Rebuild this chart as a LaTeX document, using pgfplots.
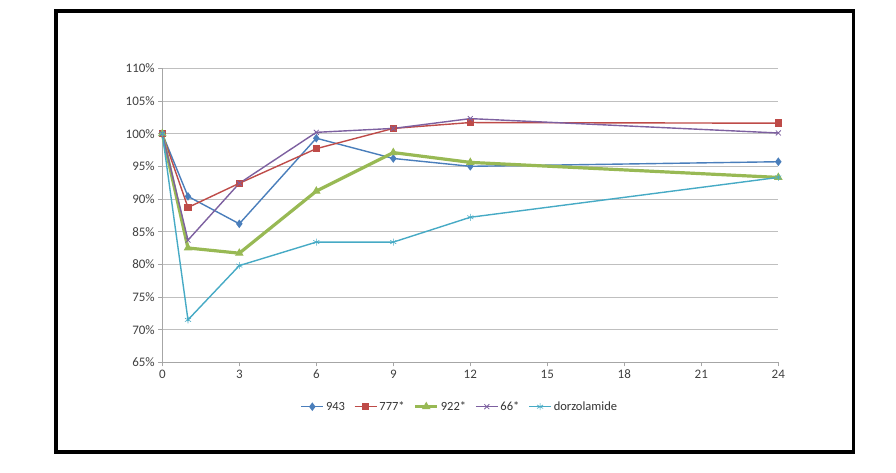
\documentclass[border=0pt]{standalone}
\usepackage{pgfplots}
\pgfplotsset{compat=1.18}
\usepackage{fontspec}
\setmainfont{Carlito}
\definecolor{cBlue}{HTML}{4A7EBB}
\definecolor{cRed}{HTML}{BE4B48}
\definecolor{cGreen}{HTML}{98B954}
\definecolor{cPurple}{HTML}{7D60A0}
\definecolor{cAqua}{HTML}{46AAC5}
\begin{document}
\begin{tikzpicture}
% page bounds and outer frame
\path (0,0) rectangle (896pt,-472pt);
\draw[line width=3.5pt] (56pt,-11pt) rectangle (853.5pt,-452pt);
\begin{axis}[
    at={(162.3pt,-362.3pt)}, anchor=south west,
    scale only axis, width=616pt, height=294pt,
    xmin=0, xmax=24, ymin=65, ymax=110,
    xtick={0,3,...,24}, ytick={65,70,...,110},
    yticklabel={\pgfmathprintnumber{\tick}\%},
    /pgf/number format/assume math mode=true,
    axis x line*=bottom, axis y line*=left,
    axis line style={black!35, line width=0.8pt},
    ymajorgrids, grid style={black!25, line width=0.9pt},
    tick align=outside, major tick length=4pt,
    tick style={black!35, line width=0.8pt},
    ticklabel style={font=\fontsize{13}{15}\selectfont, text=black!75},
    clip=false,
    legend columns=5,
    legend style={at={(0.483,-0.151)}, anchor=center, draw=none,
        font=\fontsize{12.5}{14}\selectfont, text=black!80,
        /tikz/every even column/.append style={column sep=7pt}},
    legend image code/.code={\draw[mark repeat=2,mark phase=2]
        plot coordinates {(0pt,0pt) (11pt,0pt) (22pt,0pt)};},
]
\addplot[cBlue, line width=1.4pt, mark=diamond*, mark size=3.2pt,
    mark options={solid}] coordinates {
    (0,100) (1,90.4) (3,86.2) (6,99.3) (9,96.2) (12,95.0) (24,95.7)};
\addplot[cRed, line width=1.4pt, mark=square*, mark size=3pt] coordinates {
    (0,100) (1,88.7) (3,92.4) (6,97.7) (9,100.8) (12,101.7) (24,101.6)};
\addplot[cGreen, line width=3.2pt, mark=triangle*, mark size=4pt,
    mark options={line width=1pt}] coordinates {
    (0,100) (1,82.5) (3,81.7) (6,91.2) (9,97.1) (12,95.6) (24,93.3)};
\addplot[cPurple, line width=1.4pt, mark=x, mark size=3.5pt,
    mark options={line width=0.8pt}] coordinates {
    (0,100) (1,83.7) (3,92.4) (6,100.2) (9,100.8) (12,102.3) (24,100.1)};
\addplot[cAqua, line width=1.4pt, mark=asterisk, mark size=3.5pt,
    mark options={line width=0.6pt}] coordinates {
    (0,100) (1,71.5) (3,79.8) (6,83.4) (9,83.4) (12,87.2) (24,93.3)};
\legend{943, 777*, 922*, 66*, dorzolamide}
\end{axis}
\end{tikzpicture}
\end{document}
